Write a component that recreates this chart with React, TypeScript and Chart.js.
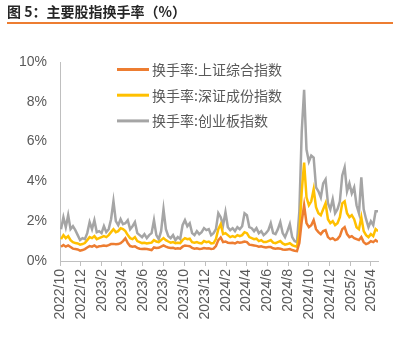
import React, { useEffect, useRef } from "react";
import { Chart, registerables } from "chart.js";

Chart.register(...registerables);

// ---- Data (weekly samples) ----
const seriesNames = ["换手率:上证综合指数", "换手率:深证成份指数", "换手率:创业板指数"];
const seriesColors = ["#ED7D31", "#FFC000", "#A5A5A5"];

const axisStart = { year: 2022, month: 10 };
const firstSampleDay = 3; // days after 2022/10/1
const sampleStepDays = 7;
const lastDay = 934;

const tickLabels = [
  "2022/10", "2022/12", "2023/2", "2023/4", "2023/6", "2023/8", "2023/10", "2023/12",
  "2024/2", "2024/4", "2024/6", "2024/8", "2024/10", "2024/12", "2025/2", "2025/4",
];
const yTickValues = [0, 2, 4, 6, 8, 10];

const shanghai = [
  0.72, 0.80, 0.72, 0.78, 0.70, 0.62, 0.60, 0.58, 0.52, 0.55,
  0.60, 0.68, 0.75, 0.72, 0.78, 0.70, 0.74, 0.75, 0.78, 0.76,
  0.80, 0.85, 0.86, 0.84, 0.85, 0.90, 1.00, 1.14, 0.90, 0.75,
  0.72, 0.74, 0.66, 0.62, 0.60, 0.62, 0.60, 0.58, 0.55, 0.68,
  0.65, 0.66, 0.72, 0.78, 0.72, 0.68, 0.65, 0.66, 0.62, 0.64,
  0.62, 0.72, 0.78, 0.76, 0.74, 0.66, 0.62, 0.64, 0.60, 0.62,
  0.65, 0.63, 0.64, 0.60, 0.62, 0.75, 1.05, 1.18, 0.95, 0.98,
  0.92, 0.90, 0.92, 0.88, 0.95, 0.92, 0.94, 0.98, 0.95, 0.82,
  0.80, 0.78, 0.76, 0.72, 0.74, 0.70, 0.68, 0.70, 0.70, 0.64,
  0.62, 0.64, 0.62, 0.58, 0.56, 0.58, 0.60, 0.55, 0.52, 0.50,
  0.90, 2.00, 2.80, 1.90, 1.70, 1.80, 2.05, 1.60, 1.45, 1.35,
  1.50, 1.55, 1.20, 1.10, 1.15, 1.05, 1.10, 1.25, 1.60, 1.70,
  1.35, 1.20, 1.25, 1.15, 1.10, 1.05, 1.20, 0.95, 0.85, 0.90,
  1.00, 0.95, 1.05, 0.95,
];

const shenzhen = [
  1.10, 1.30, 1.15, 1.25, 1.05, 0.95, 0.90, 0.88, 0.82, 0.85,
  0.90, 1.05, 1.20, 1.15, 1.25, 1.10, 1.15, 1.20, 1.25, 1.20,
  1.30, 1.45, 1.60, 1.45, 1.50, 1.65, 1.60, 1.50, 1.30, 1.15,
  1.10, 1.20, 1.00, 0.95, 0.90, 0.92, 0.88, 0.90, 0.92, 1.05,
  0.98, 0.95, 1.05, 1.15, 1.05, 0.98, 0.92, 0.95, 0.90, 0.92,
  0.90, 1.05, 1.15, 1.10, 1.12, 0.95, 0.92, 0.95, 0.90, 0.88,
  1.00, 0.95, 0.98, 0.88, 0.90, 1.10, 1.60, 1.85, 1.35, 1.40,
  1.30, 1.20, 1.25, 1.20, 1.30, 1.25, 1.30, 1.45, 1.40, 1.20,
  1.15, 1.10, 1.12, 1.00, 1.05, 0.95, 0.95, 1.00, 1.05, 0.92,
  0.90, 0.95, 1.00, 0.88, 0.82, 0.85, 0.90, 0.80, 0.75, 0.72,
  1.40, 3.50, 4.95, 3.20, 2.80, 3.00, 3.60, 2.70, 2.40, 2.30,
  2.60, 2.90, 2.10, 1.90, 2.00, 1.80, 1.90, 2.20, 2.90, 3.00,
  2.40, 2.20, 2.30, 2.10, 1.70, 1.60, 2.20, 1.50, 1.30, 1.20,
  1.35, 1.25, 1.60, 1.50,
];

const chinext = [
  1.60, 2.20, 1.70, 2.30, 1.60, 1.75, 1.55, 1.30, 1.05, 1.15,
  1.10, 1.40, 1.95, 1.60, 2.05, 1.45, 1.50, 1.40, 1.75, 1.45,
  1.60, 2.10, 3.00, 2.00, 1.80, 2.10, 1.85, 1.90, 2.05, 1.60,
  1.75, 1.95, 1.40, 1.30, 1.20, 1.35, 1.15, 1.30, 1.40, 2.05,
  1.30, 1.10, 1.50, 2.60, 1.60, 1.25, 1.15, 1.30, 1.05, 1.20,
  1.10, 1.80, 2.05, 1.75, 1.90, 1.40, 1.30, 1.50, 1.35, 1.45,
  1.65, 1.55, 1.60, 1.30, 1.40, 1.60, 2.40, 2.20, 1.80, 2.45,
  1.70, 1.55, 1.65, 1.50, 1.70, 1.60, 1.75, 2.40, 2.30, 1.70,
  1.65, 1.50, 1.65, 1.40, 1.50, 1.30, 1.40, 1.55, 1.90, 1.40,
  1.35, 1.60, 1.95, 1.40, 1.20, 1.50, 1.85, 1.20, 1.00, 0.95,
  2.50, 6.50, 8.60, 5.60, 5.00, 5.30, 5.20, 3.70, 3.50, 3.20,
  3.90, 4.10, 2.90, 2.60, 3.10, 2.40, 2.60, 3.00, 4.30, 4.70,
  3.50, 3.90, 3.40, 3.70, 2.80, 2.40, 4.20, 2.60, 2.10, 1.70,
  2.00, 1.80, 2.50, 2.50,
];

const seriesValues = [shanghai, shenzhen, chinext];

function dayOffset(label: string): number {
  const [y, m] = label.split("/").map(Number);
  const base = Date.UTC(axisStart.year, axisStart.month - 1, 1);
  return Math.round((Date.UTC(y, m - 1, 1) - base) / 86400000);
}

const tickDays = tickLabels.map(dayOffset);

const LABEL_FONT = "'Liberation Sans', Arial, 'Noto Sans CJK SC', sans-serif";
const CJK_FONT = "'Noto Sans CJK SC', 'Liberation Sans', sans-serif";

const legendPlugin = {
  id: "customLegend",
  afterDatasetsDraw(chart: any) {
    const { ctx, chartArea } = chart;
    ctx.save();
    chart.data.datasets.forEach((ds: any, i: number) => {
      const y = chartArea.top + 7.5 + i * 25.7;
      const x0 = chartArea.left + 57;
      ctx.strokeStyle = ds.borderColor;
      ctx.lineWidth = 3;
      ctx.beginPath();
      ctx.moveTo(x0, y);
      ctx.lineTo(x0 + 32, y);
      ctx.stroke();
      ctx.fillStyle = "#595959";
      ctx.font = `14px ${CJK_FONT}`;
      ctx.textBaseline = "middle";
      ctx.textAlign = "left";
      ctx.fillText(ds.label, x0 + 35, y);
    });
    ctx.restore();
  },
};

export default function App() {
  const canvasRef = useRef<HTMLCanvasElement | null>(null);

  useEffect(() => {
    if (!canvasRef.current) return;
    const datasets = seriesValues.map((vals, i) => ({
      label: seriesNames[i],
      data: vals.map((v, k) => ({ x: firstSampleDay + k * sampleStepDays, y: v })),
      borderColor: seriesColors[i],
      backgroundColor: seriesColors[i],
      borderWidth: 2.5,
      pointRadius: 0,
      tension: 0,
    }));

    const chart = new Chart(canvasRef.current, {
      type: "line",
      data: { datasets },
      options: {
        animation: false,
        responsive: false,
        devicePixelRatio: 1,
        layout: { padding: { left: 0, right: 24, top: 62, bottom: 0 } },
        plugins: { legend: { display: false }, tooltip: { enabled: false }, title: { display: false } },
        scales: {
          x: {
            type: "linear",
            min: 0,
            max: lastDay,
            afterBuildTicks: (scale: any) => {
              scale.ticks = tickDays.map((v) => ({ value: v }));
            },
            afterFit: (scale: any) => {
              scale.height = 96;
            },
            ticks: {
              autoSkip: false,
              includeBounds: false,
              minRotation: 90,
              maxRotation: 90,
              padding: 3,
              color: "#595959",
              font: { size: 14, family: LABEL_FONT },
              callback: (value: any) => {
                const idx = tickDays.indexOf(Number(value));
                return idx >= 0 ? tickLabels[idx] : "";
              },
            },
            grid: {
              display: true,
              drawOnChartArea: false,
              drawTicks: true,
              tickLength: 5,
              color: "#BFBFBF",
            },
            border: { display: true, color: "#BFBFBF", width: 1 },
          },
          y: {
            min: 0,
            max: 10,
            afterBuildTicks: (scale: any) => {
              scale.ticks = yTickValues.map((v) => ({ value: v }));
            },
            afterFit: (scale: any) => {
              scale.width = 60;
            },
            ticks: {
              padding: 13,
              color: "#595959",
              font: { size: 14, family: LABEL_FONT },
              callback: (value: any) => `${value}%`,
            },
            grid: { display: false, drawTicks: false },
            border: { display: true, color: "#BFBFBF", width: 1 },
          },
        },
      },
      plugins: [legendPlugin],
    } as any);

    return () => chart.destroy();
  }, []);

  return (
    <div
      style={{
        position: "absolute",
        left: 0,
        top: 0,
        width: 402,
        height: 357,
        background: "#ffffff",
        overflow: "hidden",
      }}
    >
      <canvas
        ref={canvasRef}
        width={402}
        height={357}
        style={{ position: "absolute", left: 0, top: 0, width: 402, height: 357 }}
      />
      <div
        style={{
          position: "absolute",
          left: 7,
          top: 1,
          fontFamily: CJK_FONT,
          fontSize: 14,
          fontWeight: 700,
          lineHeight: "20px",
          color: "#262626",
          whiteSpace: "nowrap",
        }}
      >
        图 5：主要股指换手率（%）
      </div>
      <div
        style={{
          position: "absolute",
          left: 7,
          top: 22,
          width: 386,
          height: 2,
          background: "#ED7D31",
        }}
      />
    </div>
  );
}
